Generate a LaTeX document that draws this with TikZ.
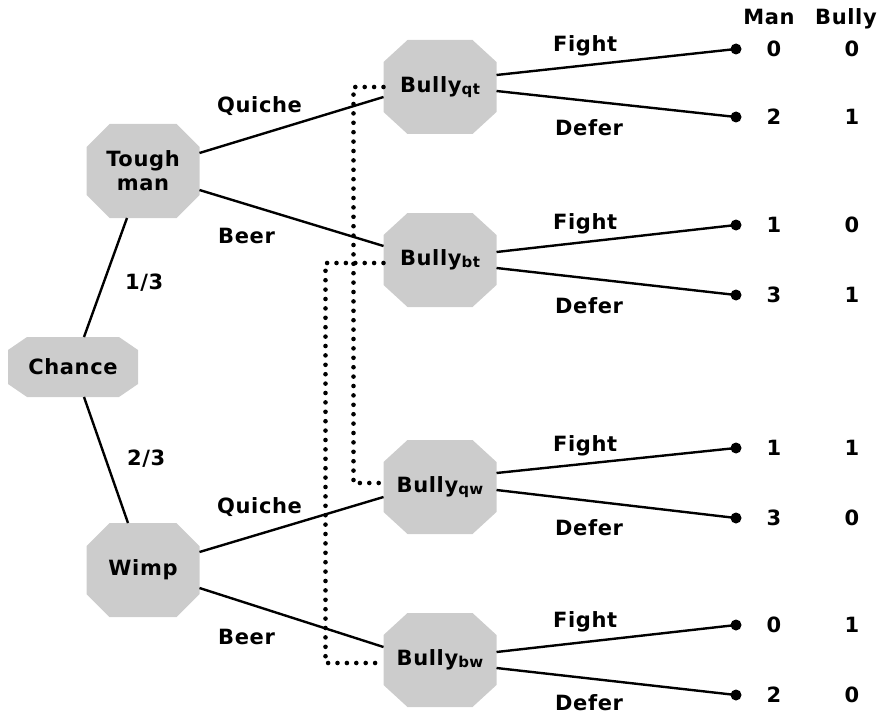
\documentclass[tikz,border=0pt]{standalone}
\usepackage{fontspec}
\setmainfont{DejaVu Sans}[LetterSpace=3]
\usetikzlibrary{calc,backgrounds}
\definecolor{nodegray}{RGB}{204,204,204}
% filled octagon over the box of node #1, corners cut by #2 (horizontal) and #3 (vertical)
\newcommand\octfill[3]{%
  \fill[nodegray] ([xshift=#2]#1.north west) -- ([xshift=-#2]#1.north east)
    -- ([yshift=-#3]#1.north east) -- ([yshift=#3]#1.south east)
    -- ([xshift=-#2]#1.south east) -- ([xshift=#2]#1.south west)
    -- ([yshift=#3]#1.south west) -- ([yshift=-#3]#1.north west) -- cycle;}
\newcommand\infosub[1]{{\fontsize{15}{17}\selectfont\raisebox{-1.5pt}{#1}}}
\begin{document}
\begin{tikzpicture}[x=1pt,y=-1pt,font=\bfseries\fontsize{21}{24}\selectfont,
  player/.style={rectangle,inner sep=0pt,outer sep=0pt,minimum width=113pt,
    minimum height=94pt,align=center},
  chancebox/.style={player,minimum width=130pt,minimum height=60pt},
  move/.style={line width=2.4pt},
  infoset/.style={line width=4.6pt,line cap=round,dash pattern=on 0pt off 9.4pt},
  leaf/.style={circle,fill=black,inner sep=0pt,minimum size=11pt},
  lbl/.style={anchor=base west,inner sep=0pt},
  pay/.style={anchor=base,inner sep=0pt}]
\useasboundingbox (0,0) rectangle (880,714);

% decision nodes
\node[chancebox] (chance) at (73,367) {Chance};
\node[player] (tm) at (143,171) {Tough\\man};
\node[player] (wimp) at (143,570) {Wimp};
\node[player] (bqt) at (440,87) {Bully\infosub{qt}};
\node[player] (bbt) at (440,260) {Bully\infosub{bt}};
\node[player] (bqw) at (440,487) {Bully\infosub{qw}};
\node[player] (bbw) at (440,660) {Bully\infosub{bw}};

\begin{scope}[on background layer]
  \octfill{chance}{19pt}{13pt}
  \octfill{tm}{23pt}{23pt}
  \octfill{wimp}{23pt}{23pt}
  \octfill{bqt}{24pt}{22pt}
  \octfill{bbt}{24pt}{22pt}
  \octfill{bqw}{24pt}{22pt}
  \octfill{bbw}{24pt}{22pt}
\end{scope}

% terminal points
\node[leaf] (t1) at (736,49) {};
\node[leaf] (t2) at (736,117) {};
\node[leaf] (t3) at (736,225) {};
\node[leaf] (t4) at (736,295) {};
\node[leaf] (t5) at (736,448) {};
\node[leaf] (t6) at (736,518) {};
\node[leaf] (t7) at (736,625) {};
\node[leaf] (t8) at (736,695) {};

% moves
\draw[move] ($(chance.north)+(11,0)$) -- ($(tm.south)+(-16,0)$);
\draw[move] ($(chance.south)+(11,0)$) -- ($(wimp.north)+(-15,0)$);
\draw[move] ($(tm.east)+(0,-18)$) -- ($(bqt.west)+(0,10)$);
\draw[move] ($(tm.east)+(0,19)$) -- ($(bbt.west)+(0,-14)$);
\draw[move] ($(wimp.east)+(0,-18)$) -- ($(bqw.west)+(0,10)$);
\draw[move] ($(wimp.east)+(0,18)$) -- ($(bbw.west)+(0,-13)$);
\draw[move] ($(bqt.east)+(0,-12)$) -- (t1.center);
\draw[move] ($(bqt.east)+(0,4)$) -- (t2.center);
\draw[move] ($(bbt.east)+(0,-8)$) -- (t3.center);
\draw[move] ($(bbt.east)+(0,8)$) -- (t4.center);
\draw[move] ($(bqw.east)+(0,-14)$) -- (t5.center);
\draw[move] ($(bqw.east)+(0,3)$) -- (t6.center);
\draw[move] ($(bbw.east)+(0,-8)$) -- (t7.center);
\draw[move] ($(bbw.east)+(0,8)$) -- (t8.center);

% information sets
\draw[infoset] (bqt.west) -- ($(bqt.west)+(-30,0)$) |- ($(bqw.west)+(0,-4)$);
\draw[infoset] ($(bbt.west)+(0,3)$) -- ($(bbt.west)+(-58,3)$) |- ($(bbw.west)+(0,3)$);

% move labels
\node[lbl] (q1) at (217,113) {Quiche};
\node[lbl] (b1) at (218,243) {Beer};
\node[lbl] (p1) at (125,289) {1/3};
\node[lbl] (p2) at (127,465) {2/3};
\node[lbl] (q2) at (217,513) {Quiche};
\node[lbl] (b2) at (218,644) {Beer};
\node[lbl] (f1) at (553,52) {Fight};
\node[lbl] (d1) at (555,136) {Defer};
\node[lbl] (f2) at (553,229) {Fight};
\node[lbl] (d2) at (555,313) {Defer};
\node[lbl] (f3) at (553,451) {Fight};
\node[lbl] (d3) at (555,535) {Defer};
\node[lbl] (f4) at (553,627) {Fight};
\node[lbl] (d4) at (555,710) {Defer};

% payoffs
\node[pay] (hm) at (769,25) {Man};
\node[lbl] (hb) at (815,25) {Bully};
\foreach \y/\m/\b [count=\i] in {49/0/0,117/2/1,225/1/0,295/3/1,448/1/1,518/3/0,625/0/1,695/2/0}{
  \node[pay] (m\i) at (774,\y+7.5) {\m};
  \node[pay] (u\i) at (852,\y+7.5) {\b};
}
\end{tikzpicture}
\end{document}
